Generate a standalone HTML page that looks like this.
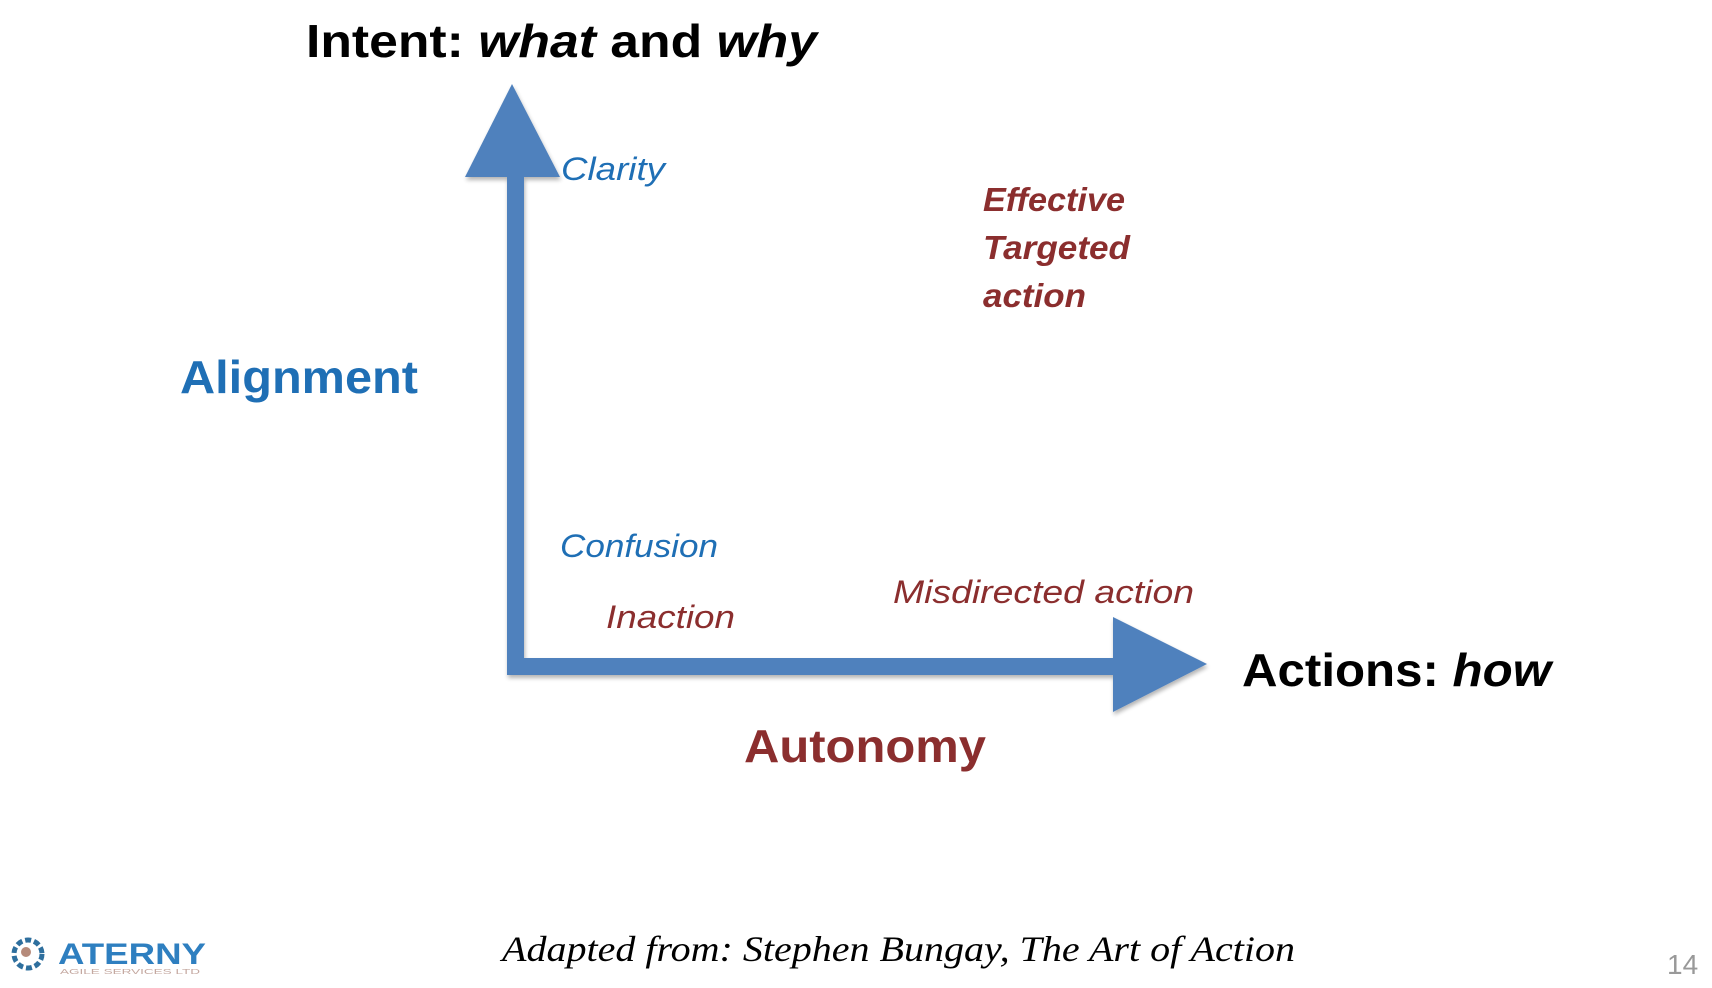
<!DOCTYPE html>
<html><head><meta charset="utf-8"><style>
html,body{margin:0;padding:0;background:#fff;}
svg{display:block;}
text{font-family:"Liberation Sans",sans-serif;}
</style></head><body>
<svg width="1712" height="988" viewBox="0 0 1712 988" xmlns="http://www.w3.org/2000/svg">
<defs><filter id="sh" x="-10%" y="-10%" width="130%" height="130%"><feGaussianBlur in="SourceAlpha" stdDeviation="2"/><feOffset dx="1" dy="3"/><feComponentTransfer><feFuncA type="linear" slope="0.3"/></feComponentTransfer><feMerge><feMergeNode/><feMergeNode in="SourceGraphic"/></feMerge></filter></defs>
<g fill="#4f81bd" filter="url(#sh)">
<polygon points="512,84 465,177 560,177"/>
<rect x="507" y="170" width="17" height="505"/>
<rect x="507" y="658" width="610" height="17"/>
<polygon points="1113,617 1207,664 1113,712"/>
</g>
<text x="306" y="57" font-size="46" font-weight="bold" textLength="511" lengthAdjust="spacingAndGlyphs">Intent: <tspan font-style="italic">what</tspan> and <tspan font-style="italic">why</tspan></text>
<text x="561" y="180" font-size="32" font-style="italic" fill="#1f6fb5" textLength="104" lengthAdjust="spacingAndGlyphs">Clarity</text>
<g font-size="33" font-style="italic" font-weight="bold" fill="#8b2e2e">
<text x="983" y="211" textLength="142" lengthAdjust="spacingAndGlyphs">Effective</text>
<text x="983" y="259" textLength="147" lengthAdjust="spacingAndGlyphs">Targeted</text>
<text x="983" y="307" textLength="103" lengthAdjust="spacingAndGlyphs">action</text>
</g>
<text x="180" y="393" font-size="46" font-weight="bold" fill="#1f6fb5" textLength="238" lengthAdjust="spacingAndGlyphs">Alignment</text>
<text x="560" y="557" font-size="32" font-style="italic" fill="#1f6fb5" textLength="158" lengthAdjust="spacingAndGlyphs">Confusion</text>
<text x="606" y="628" font-size="32" font-style="italic" fill="#8b2e2e" textLength="129" lengthAdjust="spacingAndGlyphs">Inaction</text>
<text x="893" y="603" font-size="32" font-style="italic" fill="#8b2e2e" textLength="301" lengthAdjust="spacingAndGlyphs">Misdirected action</text>
<text x="1242" y="686" font-size="46" font-weight="bold" textLength="309" lengthAdjust="spacingAndGlyphs">Actions: <tspan font-style="italic">how</tspan></text>
<text x="744" y="762" font-size="46" font-weight="bold" fill="#8b2e2e" textLength="242" lengthAdjust="spacingAndGlyphs">Autonomy</text>
<text x="502" y="961" font-size="36" font-style="italic" font-family="Liberation Serif, serif" textLength="793" lengthAdjust="spacingAndGlyphs" style="font-family:'Liberation Serif',serif">Adapted from: Stephen Bungay, The Art of Action</text>
<text x="1667" y="974" font-size="28" fill="#999">14</text>
<g transform="translate(8,938)">
<circle cx="20" cy="16" r="14" fill="none" stroke="#2e6f9e" stroke-width="5" stroke-dasharray="6 3"/>
<circle cx="18" cy="14" r="5" fill="#b58a7a"/>
<text x="50" y="26" font-size="30" font-weight="bold" fill="#2e7fc0" textLength="148" lengthAdjust="spacingAndGlyphs">ATERNY</text>
<text x="52" y="36" font-size="7" fill="#c4a8a0" textLength="140" lengthAdjust="spacingAndGlyphs">AGILE SERVICES LTD</text>
</g>
</svg>
</body></html>
